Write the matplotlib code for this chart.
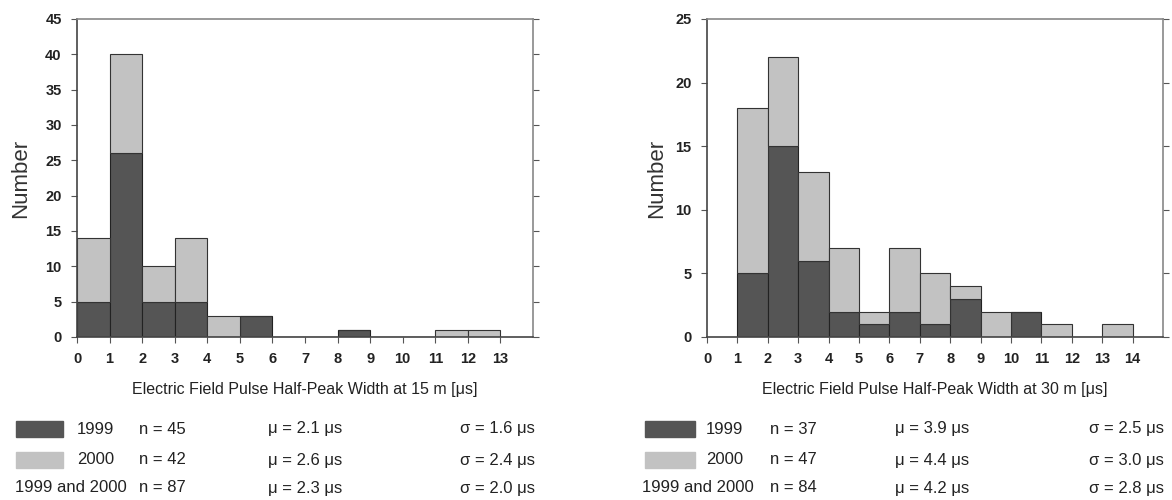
import matplotlib
matplotlib.use("Agg")
import matplotlib.pyplot as plt
import matplotlib.patches as mpatches

plt.rcParams["font.family"] = ["Liberation Sans", "DejaVu Sans"]

# Left panel: 15 m, bins of 1 us starting at 0
bins_15 = list(range(0, 13))
n1999_15 = [5, 26, 5, 5, 0, 3, 0, 0, 1, 0, 0, 0, 0]
n2000_15 = [9, 14, 5, 9, 3, 0, 0, 0, 0, 0, 0, 1, 1]

# Right panel: 30 m, bins of 1 us starting at 1
bins_30 = list(range(1, 14))
n1999_30 = [5, 15, 6, 2, 1, 2, 1, 3, 0, 2, 0, 0, 0]
n2000_30 = [13, 7, 7, 5, 1, 5, 4, 1, 2, 0, 1, 0, 1]

stats_15 = [("1999", "n = 45", "\u03bc = 2.1 \u03bcs", "\u03c3 = 1.6 \u03bcs"),
            ("2000", "n = 42", "\u03bc = 2.6 \u03bcs", "\u03c3 = 2.4 \u03bcs"),
            ("1999 and 2000", "n = 87", "\u03bc = 2.3 \u03bcs", "\u03c3 = 2.0 \u03bcs")]
stats_30 = [("1999", "n = 37", "\u03bc = 3.9 \u03bcs", "\u03c3 = 2.5 \u03bcs"),
            ("2000", "n = 47", "\u03bc = 4.4 \u03bcs", "\u03c3 = 3.0 \u03bcs"),
            ("1999 and 2000", "n = 84", "\u03bc = 4.2 \u03bcs", "\u03c3 = 2.8 \u03bcs")]

DARK = "#555555"
LIGHT = "#c2c2c2"
W, H = 1172, 500

fig = plt.figure(figsize=(W / 100, H / 100), dpi=100)


def px_axes(x0, y0, x1, y1):
    return fig.add_axes([x0 / W, 1 - y1 / H, (x1 - x0) / W, (y1 - y0) / H])


def draw_hist(ax, bins, lo, hi, xmax, ymax, ystep, xlabel, ylab_x):
    ax.bar(bins, lo, width=1, align="edge", color=DARK, edgecolor="#222222", linewidth=0.8)
    ax.bar(bins, hi, width=1, align="edge", bottom=lo, color=LIGHT,
           edgecolor="#333333", linewidth=0.8)
    ax.set_xlim(0, xmax)
    ax.set_ylim(0, ymax)
    ax.set_xticks(range(0, int(xmax)))
    ax.set_yticks(range(0, ymax + 1, ystep))
    ax.tick_params(labelsize=10.5, length=4, width=0.8, color="#555555", labelcolor="#222222")
    ax.tick_params(axis="x", pad=7)
    ax.tick_params(axis="y", right=True, direction="out", pad=7)
    for lab in ax.get_xticklabels() + ax.get_yticklabels():
        lab.set_fontweight("bold")
    for s in ax.spines.values():
        s.set_color("#888888")
        s.set_linewidth(1.2)
    ax.spines["left"].set_color("#444444")
    ax.spines["bottom"].set_color("#444444")
    ax.set_ylabel("Number", fontsize=16, color="#333333")
    ax.yaxis.set_label_coords(ylab_x, 0.5)
    ax.set_xlabel(xlabel, fontsize=11.5, color="#222222")
    ax.xaxis.set_label_coords(0.5, -0.14)
    for t in ax.yaxis.get_ticklines()[1::2]:
        t.set_color("#888888")


ax1 = px_axes(77, 19, 533, 337)
draw_hist(ax1, bins_15, n1999_15, n2000_15, 14, 45, 5,
          "Electric Field Pulse Half-Peak Width at 15 m [\u03bcs]", -0.10)
ax2 = px_axes(707, 19, 1163, 337)
draw_hist(ax2, bins_30, n1999_30, n2000_30, 15, 25, 5,
          "Electric Field Pulse Half-Peak Width at 30 m [\u03bcs]", -0.088)


def legend_block(stats, patch_x0, patch_x1, year_x, n_x, mu_x, sig_x, both_x):
    rows_y = [429, 460, 488]
    for i, (label, n, mu, sig) in enumerate(stats):
        y = 1 - rows_y[i] / H
        if i < 2:
            fig.add_artist(mpatches.Rectangle(
                (patch_x0 / W, y - 8 / H), (patch_x1 - patch_x0) / W, 16 / H,
                transform=fig.transFigure, color=DARK if i == 0 else LIGHT))
            fig.text(year_x / W, y, label, fontsize=12, va="center", color="#222222")
        else:
            fig.text(both_x / W, y, label, fontsize=12, va="center", color="#222222")
        fig.text(n_x / W, y, n, fontsize=12, va="center", color="#222222")
        fig.text(mu_x / W, y, mu, fontsize=12, va="center", color="#222222")
        fig.text(sig_x / W, y, sig, fontsize=12, va="center", color="#222222")


legend_block(stats_15, 16, 63, 77, 139, 268, 460, 15)
legend_block(stats_30, 645, 695, 706, 770, 895, 1089, 642)

fig.savefig("out.png", dpi=100)
